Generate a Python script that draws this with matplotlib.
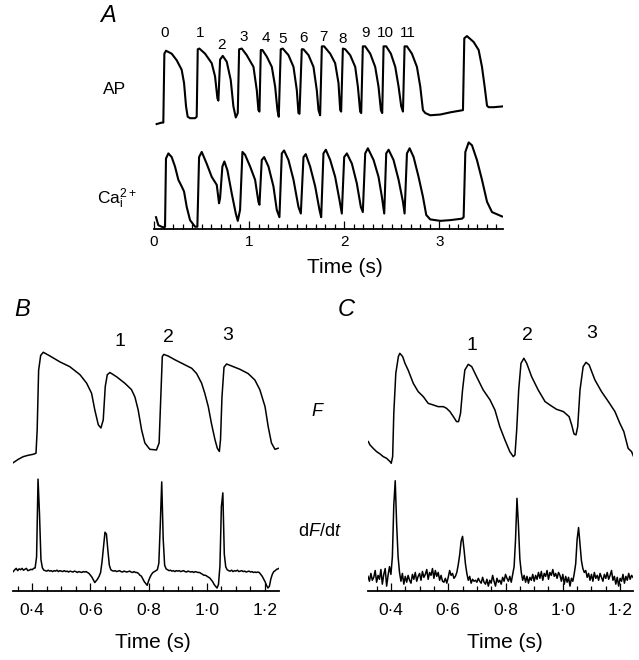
import numpy as np
import matplotlib.pyplot as plt

plt.rcParams['font.family'] = ['Liberation Sans', 'DejaVu Sans']
plt.rcParams['mathtext.fontset'] = 'custom'
plt.rcParams['mathtext.rm'] = 'Liberation Sans'
plt.rcParams['mathtext.it'] = 'Liberation Sans:italic'

# ---- Data ----
# Panel A: (time s, amplitude % of first AP / Ca transient)
ap_trace = [
    (0.028, -1), (0.081, 1), (0.098, 1), (0.109, 95), (0.126, 99), (0.186, 95), (0.239, 86),
    (0.291, 73), (0.316, 55), (0.337, 23), (0.354, 9), (0.379, 7), (0.432, 7), (0.449, 9),
    (0.46, 101), (0.477, 102), (0.537, 95), (0.607, 82), (0.642, 64), (0.667, 34), (0.677, 31),
    (0.695, 87), (0.723, 92), (0.765, 84), (0.807, 59), (0.835, 23), (0.86, 8), (0.881, 14),
    (0.895, 101), (0.923, 102), (0.975, 93), (1.046, 77), (1.081, 45), (1.098, 18), (1.109, 16),
    (1.123, 100), (1.14, 100), (1.186, 91), (1.239, 77), (1.274, 50), (1.298, 18), (1.312, 9),
    (1.333, 101), (1.354, 102), (1.414, 93), (1.467, 77), (1.502, 45), (1.519, 14), (1.53, 13),
    (1.554, 101), (1.572, 101), (1.625, 93), (1.677, 77), (1.712, 45), (1.73, 18), (1.747, 11),
    (1.765, 105), (1.789, 105), (1.853, 95), (1.905, 82), (1.94, 55), (1.958, 18), (1.968, 16),
    (1.986, 102), (2.011, 101), (2.063, 93), (2.116, 77), (2.144, 50), (2.168, 16), (2.179, 14),
    (2.196, 105), (2.221, 105), (2.274, 95), (2.326, 77), (2.361, 50), (2.386, 18), (2.4, 14),
    (2.414, 105), (2.442, 105), (2.491, 95), (2.537, 77), (2.572, 50), (2.6, 23), (2.618, 16),
    (2.635, 105), (2.66, 105), (2.712, 95), (2.765, 77), (2.8, 50), (2.828, 18), (2.853, 14),
    (2.905, 11), (3.011, 12), (3.116, 15), (3.249, 18), (3.263, 116), (3.291, 119), (3.361, 111),
    (3.414, 100), (3.449, 77), (3.477, 50), (3.502, 24), (3.519, 22), (3.572, 22), (3.66, 23)]

ca_trace = [
    (0.021, 13), (0.046, 2), (0.098, -1), (0.116, 0), (0.126, 93), (0.151, 100), (0.186, 95),
    (0.221, 82), (0.256, 64), (0.291, 55), (0.316, 48), (0.344, 27), (0.379, 9), (0.432, 0),
    (0.456, 0), (0.474, 95), (0.502, 102), (0.554, 86), (0.607, 68), (0.66, 57), (0.684, 32),
    (0.695, 39), (0.719, 82), (0.74, 89), (0.772, 77), (0.818, 45), (0.86, 18), (0.881, 8),
    (0.905, 23), (0.93, 102), (0.958, 98), (1.011, 82), (1.063, 64), (1.098, 34), (1.109, 30),
    (1.133, 91), (1.158, 95), (1.204, 82), (1.256, 55), (1.291, 23), (1.319, 13), (1.344, 100),
    (1.368, 104), (1.414, 91), (1.467, 64), (1.519, 27), (1.544, 18), (1.572, 95), (1.596, 99),
    (1.642, 82), (1.695, 55), (1.74, 23), (1.758, 13), (1.782, 100), (1.807, 105), (1.853, 91),
    (1.905, 68), (1.951, 36), (1.975, 18), (2.0, 95), (2.028, 100), (2.081, 86), (2.133, 59),
    (2.175, 27), (2.196, 20), (2.221, 100), (2.249, 107), (2.309, 91), (2.361, 68), (2.396, 41),
    (2.421, 18), (2.442, 100), (2.467, 105), (2.519, 91), (2.572, 64), (2.618, 34), (2.635, 18),
    (2.66, 100), (2.688, 107), (2.73, 95), (2.782, 68), (2.828, 41), (2.863, 16), (2.905, 10),
    (3.011, 8), (3.116, 9), (3.239, 11), (3.256, 13), (3.274, 102), (3.309, 115), (3.344, 111),
    (3.396, 91), (3.449, 64), (3.502, 34), (3.554, 20), (3.607, 17), (3.66, 14)]

ap_numbers = ['0', '1', '2', '3', '4', '5', '6', '7', '8', '9', '10', '11']

# Panel B: fluorescence F (time s, % of peak)
b_f_trace = [
    (0.335, -2.5), (0.352, 0.6), (0.369, 3.1), (0.386, 4.4), (0.403, 5.3), (0.413, 6.3),
    (0.417, 28), (0.422, 84), (0.429, 98), (0.438, 101), (0.461, 97.5), (0.495, 92),
    (0.529, 87.5), (0.564, 80), (0.587, 72), (0.604, 62.5), (0.615, 47), (0.627, 33),
    (0.636, 30), (0.644, 37.5), (0.651, 69), (0.658, 80), (0.667, 82), (0.69, 78), (0.718, 72),
    (0.741, 66), (0.753, 59), (0.764, 47), (0.776, 28), (0.787, 16), (0.804, 10), (0.827, 9.4),
    (0.836, 16), (0.841, 53), (0.847, 97), (0.852, 99), (0.867, 97.5), (0.89, 94), (0.919, 90),
    (0.948, 86), (0.965, 81), (0.982, 72), (0.993, 62.5), (1.005, 50), (1.016, 34), (1.028, 19),
    (1.036, 11), (1.043, 8), (1.047, 19), (1.052, 59), (1.059, 87), (1.068, 90), (1.091, 87.5),
    (1.114, 85), (1.142, 81), (1.165, 75), (1.182, 66), (1.2, 50), (1.211, 31), (1.222, 16),
    (1.234, 10), (1.245, 11)]

# Panel B: dF/dt sampled every 5 ms from 0.335 s (% of first peak)
b_df_start, b_df_step = 0.335, 0.005
b_df = [
    -1, 1, 2.5, 0, 2, 1, 2.5, 0.5, 1.5, 2.5, 0, 0.5, 1.5, 1, 2.5, 3, 15, 100, 62, 12,
    3, 0.5, 0, -0.5, 0.5, -0.5, 0, -1, 0, -0.5, 0.5, -1, 0, -0.5, -1, 0, -1, -0.5, -1.5, -0.5,
    -1, -1.5, -0.5, -1, -2, -1, -1.5, -2, -1, -1.5, -1, -2, -3, -5, -7, -10, -13, -11, -9, -6,
    -2, 10, 26, 42, 40, 22, 6, 1, 0, -0.5, 0, -1, -0.5, 0, -1, -1.5, -0.5, -1, -1.5, -1,
    -0.5, -1.5, -2, -1, -2, -2, -3, -5, -6, -9, -12, -14, -16, -11, -7, -4, -2, -1, 0, 1,
    8, 50, 97, 35, 6, 2, 1, 0, 0.5, -0.5, 0, -1, 0, -0.5, 0, -1, -0.5, 0, -1, -1.5,
    -0.5, -1, -1.5, -1, -2, -1, -1.5, -2, -2, -3, -4, -5, -5, -6, -7, -8, -10, -12, -15, -17,
    -19, -15, 5, 70, 85, 18, 4, 1, 0, -0.5, 0.5, -1, 0, -0.5, 0.5, -1, -0.5, 0, -1, -0.5,
    -1.5, -1, -0.5, -1.5, -1, -2, -1.5, -2, -1.5, -2, -4, -6, -9, -12, -16, -19, -17, -9, -4, -1,
    0, 1.5, 2, 3]

# Panel C: fluorescence F (time s, % of peak)
c_f_trace = [
    (0.321, 19.7), (0.327, 16.7), (0.338, 13.6), (0.35, 10.6), (0.362, 8.5), (0.373, 6.1),
    (0.385, 4.5), (0.397, 1.5), (0.401, 0), (0.406, 6.1), (0.41, 45.5), (0.417, 81.8),
    (0.426, 97), (0.431, 100), (0.441, 97), (0.449, 90.9), (0.46, 84.8), (0.478, 72.7),
    (0.495, 65.2), (0.513, 60.6), (0.53, 54.5), (0.548, 53), (0.565, 51.5), (0.583, 51.5),
    (0.594, 50), (0.606, 47), (0.618, 42.4), (0.629, 37.9), (0.636, 37.9), (0.643, 45.5),
    (0.65, 66.7), (0.658, 84.8), (0.67, 90), (0.682, 87.9), (0.699, 78.8), (0.722, 66.7),
    (0.746, 57.6), (0.763, 48.5), (0.78, 33.3), (0.798, 21.2), (0.815, 10.6), (0.827, 6.1),
    (0.833, 7.6), (0.839, 30.3), (0.846, 66.7), (0.854, 90.9), (0.864, 95.5), (0.874, 90.9),
    (0.891, 78.8), (0.914, 66.7), (0.938, 56.1), (0.955, 53), (0.978, 49.1), (1.002, 47),
    (1.022, 42.4), (1.031, 34.8), (1.039, 26.7), (1.046, 25.8), (1.052, 33.3), (1.06, 66.7),
    (1.071, 87.9), (1.081, 91.8), (1.092, 89.4), (1.112, 75.8), (1.135, 65.2), (1.159, 56.1),
    (1.182, 47), (1.199, 36.4), (1.213, 28.8), (1.228, 13.6), (1.24, 10.6), (1.246, 6.7)]

# Panel C: dF/dt sampled every 5 ms from 0.32 s (% of first peak)
c_df_start, c_df_step = 0.32, 0.005
c_df = [
    2, -3, 5, -2, 1, 8, -4, 3, -1, 9, -6, 4, 10, -8, 3, 12, 4, 22, 75, 100,
    55, 22, 6, -3, 5, -6, 2, -4, 3, -2, -5, 4, -1, 6, -3, 2, 5, -2, 7, 1,
    4, 9, -1, 6, 3, 10, 0, 8, 2, 6, -2, 3, -3, -4, 0, -5, 1, 8, 3, 5,
    0, 2, 6, 14, 24, 38, 43, 30, 15, 5, -2, 2, -5, -1, -3, -2, -4, 0, -3, -5,
    1, -4, -6, -1, -8, -2, -5, 3, -3, -8, 0, -4, -2, -6, 1, -3, 4, 0, -3, 2,
    -4, 4, 12, 40, 82, 55, 20, 6, -2, 3, -4, 2, -5, 1, -2, 4, -3, 3, -1, 6,
    0, 7, -2, 5, 2, 8, -1, 6, 3, 9, 2, 5, 0, 6, 3, -3, 4, -6, 2, -4,
    1, -8, 0, -3, 5, 15, 40, 52, 35, 18, 10, 6, 8, 1, 5, -2, 4, -3, 6, 0,
    3, -2, 5, 1, -3, 4, 0, 6, -1, 3, 8, -2, 2, -6, 1, -8, 0, -3, 4, -5,
    2, -2, 5, -1, 3, 1]

b_ticks = [0.4, 0.6, 0.8, 1.0, 1.2]
b_ticklabels = ['0\u00b74', '0\u00b76', '0\u00b78', '1\u00b70', '1\u00b72']

# ---- Layout (pixel boxes on a 639 x 660 canvas) ----
W, H = 639, 660
fig = plt.figure(figsize=(W / 100, H / 100), dpi=100)


def box(x0, y0, x1, y1):
    return [x0 / W, 1 - y1 / H, (x1 - x0) / W, (y1 - y0) / H]


def ftext(x, y, s, **kw):
    fig.text(x / W, 1 - y / H, s, ha='center', va='center', **kw)


def time_axis(ax, major, minor, labels, size, pad):
    for side in ['left', 'top', 'right']:
        ax.spines[side].set_visible(False)
    ax.spines['bottom'].set_linewidth(1.3)
    ax.set_yticks([])
    ax.set_xticks(major)
    ax.set_xticklabels(labels)
    ax.set_xticks(minor, minor=True)
    ax.tick_params(axis='x', which='major', direction='in', length=6, width=0.9,
                   labelsize=size, pad=pad)
    ax.tick_params(axis='x', which='minor', direction='in', length=3.5, width=0.9)
    ax.patch.set_alpha(0)


# Panel A
ap = np.array(ap_trace)
ca = np.array(ca_trace)
ax_ap = fig.add_axes(box(154, 30, 503, 130))
ax_ap.plot(ap[:, 0], ap[:, 1], color='black', lw=1.5)
ax_ap.set_xlim(0, 3.67)
ax_ap.set_ylim(-9.1, 127.3)
ax_ap.axis('off')

ax_ca = fig.add_axes(box(154, 138, 503, 229))
ax_ca.plot(ca[:, 0], ca[:, 1], color='black', lw=1.5)
ax_ca.set_xlim(0, 3.67)
ax_ca.set_ylim(-3.1, 121)
time_axis(ax_ca, [0, 1, 2, 3], np.arange(0, 3.66, 0.1), ['0', '1', '2', '3'], 11, 4)

ap_label_xy = [(165, 33), (200, 33), (222, 45), (244, 37), (266, 38), (283, 39),
               (303, 38), (323, 37), (343, 39), (365, 33), (385, 33), (408, 33)]
for s, (x, y) in zip(ap_numbers, ap_label_xy):
    ftext(x, y, s, fontsize=11)
ftext(108, 15, 'A', fontsize=17, style='italic')
ftext(115, 89, 'AP', fontsize=12.5)
ftext(117, 199, r'Ca$_\mathregular{i}^\mathregular{2+}$', fontsize=12.5)
ftext(345, 268, 'Time (s)', fontsize=15)

# Panel B
bf = np.array(b_f_trace)
b_t = b_df_start + b_df_step * np.arange(len(b_df))
ax_bf = fig.add_axes(box(13.3, 340, 279.3, 470))
ax_bf.plot(bf[:, 0], bf[:, 1], color='black', lw=1.1)
ax_bf.set_xlim(0.335, 1.249)
ax_bf.set_ylim(-9.4, 112.5)
ax_bf.axis('off')

ax_bd = fig.add_axes(box(13.3, 470, 279.3, 590.7))
ax_bd.plot(b_t, b_df, color='black', lw=1.1)
ax_bd.set_xlim(0.335, 1.249)
ax_bd.set_ylim(-21.9, 110)
time_axis(ax_bd, b_ticks, np.arange(0.35, 1.25, 0.05), b_ticklabels, 12.5, 9)

# Panel C
cf = np.array(c_f_trace)
c_t = c_df_start + c_df_step * np.arange(len(c_df))
ax_cf = fig.add_axes(box(368.3, 340, 633, 470))
ax_cf.plot(cf[:, 0], cf[:, 1], color='black', lw=1.1)
ax_cf.set_xlim(0.321, 1.245)
ax_cf.set_ylim(-6.1, 112.1)
ax_cf.axis('off')

ax_cd = fig.add_axes(box(368.3, 470, 633, 590.5))
ax_cd.plot(c_t, c_df, color='black', lw=1.1)
ax_cd.set_xlim(0.321, 1.245)
ax_cd.set_ylim(-12.5, 111)
time_axis(ax_cd, b_ticks, np.arange(0.35, 1.25, 0.05), b_ticklabels, 12.5, 9)

# Panel B / C annotations
ftext(22, 310, 'B', fontsize=17, style='italic')
ftext(346, 310, 'C', fontsize=17, style='italic')
for s, (x, y) in zip(['1', '2', '3'], [(120, 342), (168, 337), (228, 335)]):
    ftext(x, y, s, fontsize=14)
for s, (x, y) in zip(['1', '2', '3'], [(472, 345), (527, 335), (592, 333)]):
    ftext(x, y, s, fontsize=14)
ftext(318, 411, r'$F$', fontsize=13)
ftext(320, 531, r'd$F$/d$t$', fontsize=13)
ftext(153, 642, 'Time (s)', fontsize=15)
ftext(505, 642, 'Time (s)', fontsize=15)

fig.savefig('out.png', dpi=100)
